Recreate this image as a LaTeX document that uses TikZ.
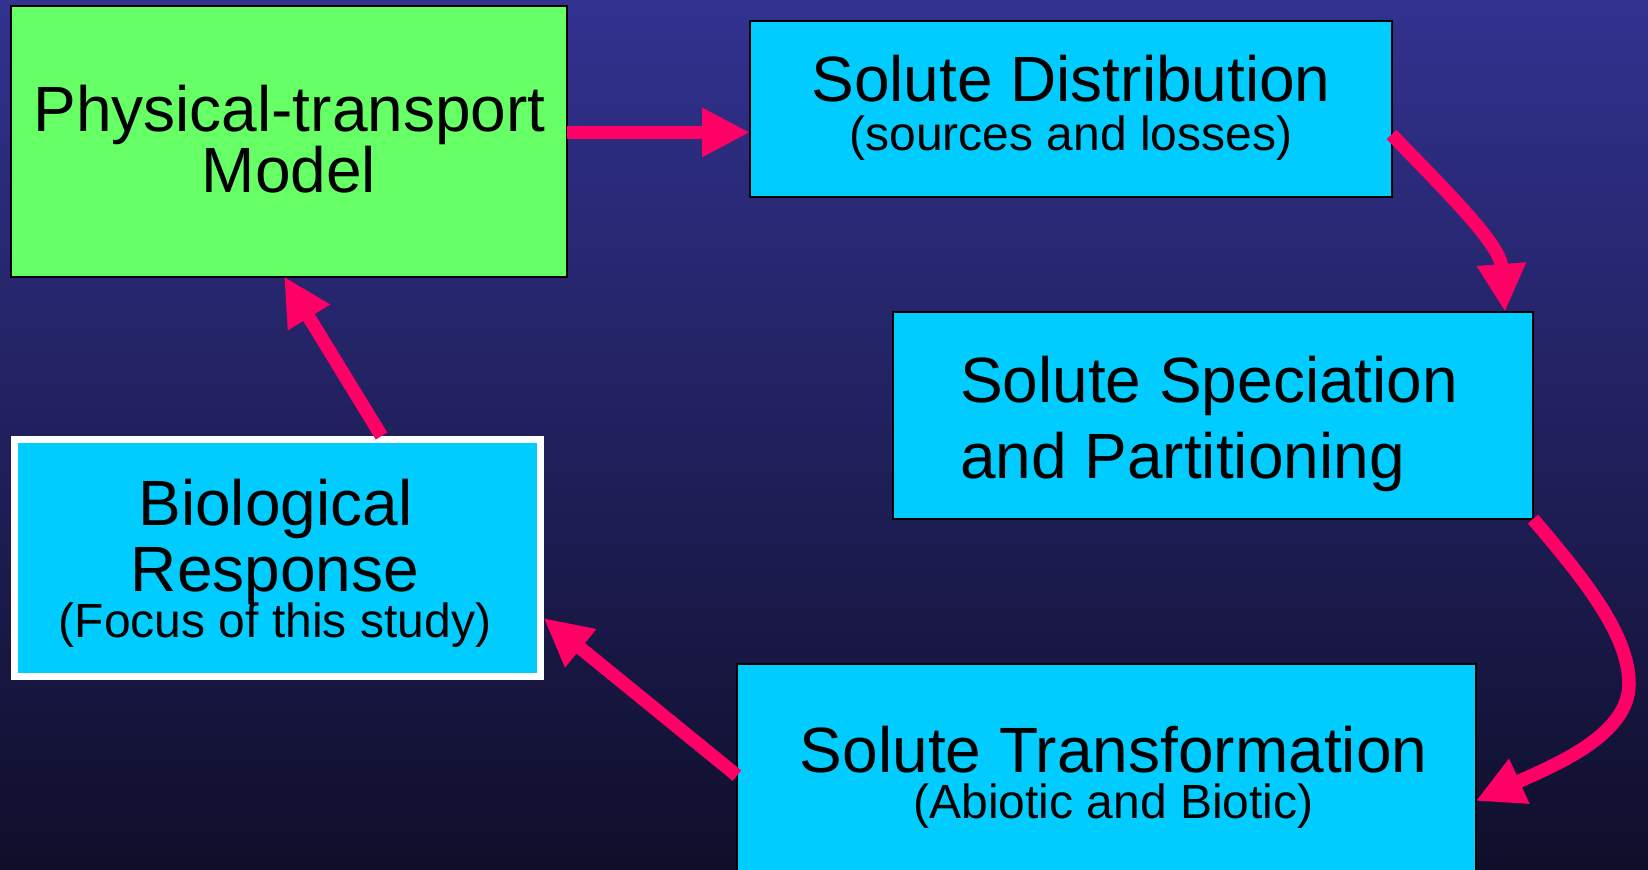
\documentclass[tikz,border=0pt]{standalone}
\usepackage{fontspec}
\setmainfont{Liberation Sans}
\usetikzlibrary{arrows.meta,calc}
\definecolor{bgtop}{RGB}{50,50,144}
\definecolor{bgmid}{RGB}{37,36,105}
\definecolor{bgbot}{RGB}{15,14,42}
\definecolor{boxgreen}{RGB}{102,255,102}
\definecolor{boxcyan}{RGB}{0,204,255}
\definecolor{arrowpink}{RGB}{255,0,102}
\begin{document}
\begin{tikzpicture}[x=0.5pt,y=-0.5pt,
  box/.style={rectangle, draw=black, line width=1pt, inner sep=0pt, outer sep=0pt},
  big/.style={anchor=base, inner sep=0pt, font=\fontsize{32}{38}\selectfont},
  small/.style={anchor=base, inner sep=0pt, font=\fontsize{24}{28}\selectfont},
  arr/.style={color=arrowpink, line width=6.75pt, -{Triangle[length=24pt,width=23pt]}}
]
\useasboundingbox (0,0) rectangle (1648,869);
\clip (0,0) rectangle (1648,869);
\shade[top color=bgtop, middle color=bgmid, bottom color=bgbot] (0,0) rectangle (1648,869);

% boxes
\node[box, fill=boxgreen, minimum width=278pt, minimum height=135.5pt] (phys) at (288.5,141) {};
\node[box, fill=boxcyan, minimum width=320.75pt, minimum height=87.75pt] (dist) at (1070.75,108.75) {};
\node[box, fill=boxcyan, minimum width=320pt, minimum height=103.5pt] (spec) at (1213,415.5) {};
\node[box, fill=boxcyan, minimum width=369.3pt, minimum height=120pt] (trans) at (1106.3,784) {};
\node[rectangle, draw=white, line width=3.5pt, fill=boxcyan, inner sep=0pt,
      minimum width=263pt, minimum height=118.5pt] (bio) at (277,558) {};

% texts
\node[big] (physA) at (289.5,131.4) {Physical-transport};
\node[big] (physB) at (289,192.3) {Model};
\node[big] (distA) at (1071,101) {Solute Distribution};
\node[small] (distB) at (1071,150) {(sources and losses)};
\node[big, anchor=base west] (specA) at (959.6,402.6) {Solute Speciation};
\node[big, anchor=base west] (specB) at (959.6,478) {and Partitioning};
\node[big] (bioA) at (275.4,525.5) {Biological};
\node[big] (bioB) at (275,591.7) {Response};
\node[small] (bioC) at (275,637) {(Focus of this study)};
\node[big] (transA) at (1113.6,772.5) {Solute Transformation};
\node[small] (transB) at (1113.6,818.8) {(Abiotic and Biotic)};

% connectors
\coordinate (p1) at (0,132.4);
\draw[arr] (phys.east |- p1) -- (dist.west |- p1);

\coordinate (p2s) at (0,134.5);
\coordinate (p2e) at (1505,0);
\draw[arr] (dist.east |- p2s) .. controls (1455,200) and (1500,245) .. (spec.north -| p2e);

\coordinate (p3e) at (0,801);
\draw[arr] (spec.south east) .. controls (1585,580) and (1629,635) .. (1629,684)
  .. controls (1629,735) and (1555,765) .. (trans.east |- p3e);

\coordinate (p4s) at (0,775.6);
\coordinate (p4e) at (0,618);
\draw[arr] (trans.west |- p4s) -- (bio.east |- p4e);

\coordinate (p5s) at (381.5,0);
\coordinate (p5e) at (284,0);
\draw[arr] (bio.north -| p5s) -- (phys.south -| p5e);
\end{tikzpicture}
\end{document}
